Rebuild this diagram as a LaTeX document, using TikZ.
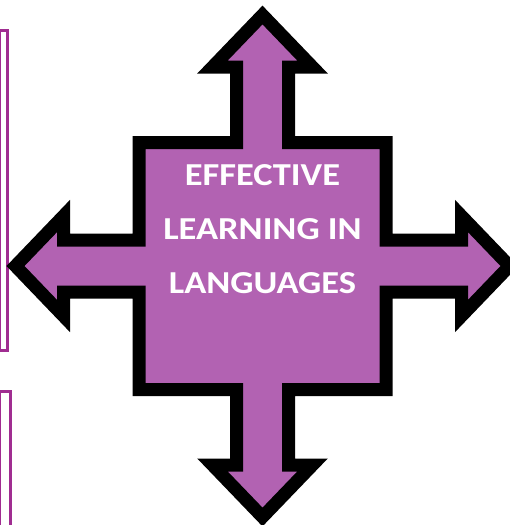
\documentclass[tikz,border=0pt]{standalone}
\usepackage{fontspec}
\setsansfont{Carlito}
\usepackage{tikz}
\usetikzlibrary{positioning}
\definecolor{arrowfill}{RGB}{178,98,178}
\definecolor{boxline}{RGB}{160,45,145}
\newcommand{\wide}[1]{\scalebox{1.14}[1]{#1}}

\begin{document}
\begin{tikzpicture}[x=1pt,y=-1pt,every node/.style={text=white,align=center,font=\sffamily\bfseries\fontsize{32}{54}\selectfont}]

  \useasboundingbox (0,0) rectangle (509,525);

  % Boxes cut off at the left border
  \begin{scope}[draw=boxline,line width=3pt]
    \draw (-1,30) rectangle (7,350);
    \draw (-1,391.5) rectangle (10.5,545);
  \end{scope}

  % Four-way arrow with the centre square
  \begin{scope}[shift={(262.5,266)},draw=black,fill=arrowfill,line width=13pt,line join=miter]
    \filldraw (26,-123.5) -- (26,-199) -- (50,-199) -- (0,-251) -- (-50,-199) -- (-26,-199)
      -- (-26,-123.5) -- (-123.5,-123.5) -- (-123.5,-26) -- (-199,-26) -- (-199,-50) -- (-247,0)
      -- (-199,50) -- (-199,26) -- (-123.5,26) -- (-123.5,123.5) -- (-26,123.5) -- (-26,199)
      -- (-50,199) -- (0,251) -- (50,199) -- (26,199) -- (26,123.5) -- (123.5,123.5)
      -- (123.5,26) -- (199,26) -- (199,50) -- (247,0) -- (199,-50) -- (199,-26)
      -- (123.5,-26) -- (123.5,-123.5) -- cycle;
  \end{scope}

  \node (title) at (262.5,229) {\wide{EFFECTIVE}\\\wide{LEARNING IN}\\\wide{LANGUAGES}};

\end{tikzpicture}
\end{document}
